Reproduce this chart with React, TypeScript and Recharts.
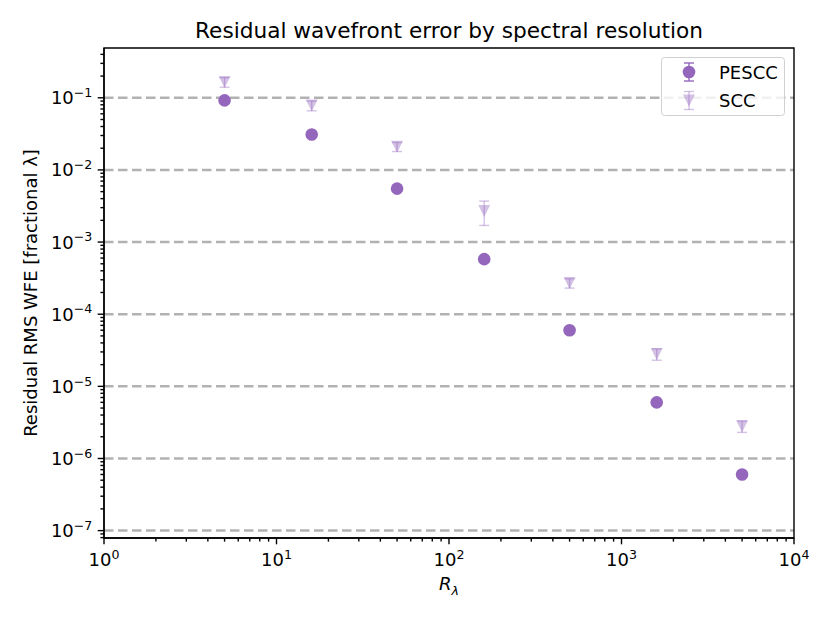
import React from 'react';
import {
  ScatterChart,
  Scatter,
  XAxis,
  YAxis,
  ErrorBar,
  ReferenceLine,
  ReferenceArea,
  Legend,
  Customized,
} from 'recharts';

// ---- data ----
const rValues = [5, 16, 50, 160, 500, 1600, 5000];
const pesccValues = [0.092, 0.031, 0.0055, 0.00058, 0.00006, 0.000006, 0.0000006];
const pesccErrors = [0.006, 0.002, 0.0004, 0.00004, 0.000005, 0.0000005, 0.00000005];
const sccValues = [0.165, 0.078, 0.021, 0.0027, 0.00027, 0.000028, 0.0000028];
const sccErrors = [0.025, 0.012, 0.003, 0.001, 0.00004, 0.000005, 0.0000005];

const xMajorTicks = [1, 10, 100, 1000, 10000];
const yMajorTicks = [1e-7, 1e-6, 1e-5, 1e-4, 1e-3, 1e-2, 1e-1];
const minorMultipliers = [2, 3, 4, 5, 6, 7, 8, 9];
const xDomain = [1, 10000];
const yDomain = [7.9e-8, 0.49];

const seriesNames = ['PESCC', 'SCC'];
const title = 'Residual wavefront error by spectral resolution';
const yLabel = 'Residual RMS WFE [fractional λ]';

// ---- derived tables ----
const pesccData = rValues.map((r, i) => ({ r, v: pesccValues[i], err: pesccErrors[i] }));
const sccData = rValues.map((r, i) => ({ r, v: sccValues[i], err: sccErrors[i] }));

const buildTicks = (majors: number[], domain: number[]) => {
  const all: number[] = [...majors];
  const decades = [Math.floor(Math.log10(domain[0])), Math.ceil(Math.log10(domain[1]))];
  for (let k = decades[0]; k <= decades[1]; k++) {
    minorMultipliers.forEach((m) => {
      const v = m * Math.pow(10, k);
      if (v >= domain[0] && v <= domain[1]) all.push(v);
    });
  }
  return all.sort((a, b) => a - b);
};
const xTicks = buildTicks(xMajorTicks, xDomain);
const yTicks = buildTicks(yMajorTicks, yDomain);

const isMajor = (v: number) => Math.abs(Math.log10(v) - Math.round(Math.log10(v))) < 1e-6;
const expText = (v: number) => {
  const e = Math.round(Math.log10(v));
  return e < 0 ? `\u2212${-e}` : `${e}`;
};

const FONT = 'DejaVu Sans, sans-serif';
const PURPLE = '#9467bd';
const MAJOR_LEN = 6.3;
const MINOR_LEN = 3.6;
const PAD = 6.3;

const XTick = (props: any) => {
  const { x, y, payload } = props;
  const v = payload.value;
  const major = isMajor(v);
  return (
    <g>
      <line x1={x} x2={x} y1={y} y2={y + (major ? MAJOR_LEN : MINOR_LEN)} stroke="#000" strokeWidth={1.4} />
      {major && (
        <text x={x} y={y + MAJOR_LEN + PAD + 15.5} textAnchor="middle" fontFamily={FONT} fontSize={18} fill="#000">
          <tspan>10</tspan>
          <tspan dy={-7.3} fontSize={12.6}>{expText(v)}</tspan>
        </text>
      )}
    </g>
  );
};

const YTick = (props: any) => {
  const { x, y, payload } = props;
  const v = payload.value;
  const major = isMajor(v);
  return (
    <g>
      <line x1={x} x2={x - (major ? MAJOR_LEN : MINOR_LEN)} y1={y} y2={y} stroke="#000" strokeWidth={1.4} />
      {major && (
        <text x={x - MAJOR_LEN - PAD + 1} y={y + 6.5} textAnchor="end" fontFamily={FONT} fontSize={18} fill="#000">
          <tspan>10</tspan>
          <tspan dy={-7.3} fontSize={12.6}>{expText(v)}</tspan>
        </text>
      )}
    </g>
  );
};

const Circle = (props: any) => {
  const { cx, cy } = props;
  if (cx == null || cy == null) return null;
  return <circle cx={cx} cy={cy} r={6.3} fill={PURPLE} />;
};

const TriDown = (props: any) => {
  const { cx, cy } = props;
  if (cx == null || cy == null) return null;
  const s = 6;
  return (
    <polygon
      points={`${cx - s},${cy - s} ${cx + s},${cy - s} ${cx},${cy + s}`}
      fill={PURPLE}
      fillOpacity={0.4}
    />
  );
};

const LegendContent = (props: any) => {
  const payload = props.payload || [];
  const rows = payload.length ? payload.map((p: any) => p.value) : seriesNames;
  return (
    <svg width={124} height={59} style={{ display: 'block' }}>
      <rect x={0.5} y={0.5} width={123} height={58} rx={3} ry={3} fill="#fff" fillOpacity={0.8} stroke="#d0d0d0" strokeWidth={1} />
      {rows.map((name: string, i: number) => {
        const cy = 15 + i * 28.5;
        const cx = 28;
        const light = i === 1;
        return (
          <g key={name}>
            <g stroke={PURPLE} strokeOpacity={light ? 0.4 : 1} strokeWidth={1.4}>
              <line x1={cx} x2={cx} y1={cy - 9} y2={cy + 9} />
              <line x1={cx - 5} x2={cx + 5} y1={cy - 9} y2={cy - 9} />
              <line x1={cx - 5} x2={cx + 5} y1={cy + 9} y2={cy + 9} />
            </g>
            {light ? (
              <polygon points={`${cx - 6},${cy - 6} ${cx + 6},${cy - 6} ${cx},${cy + 6}`} fill={PURPLE} fillOpacity={0.4} />
            ) : (
              <circle cx={cx} cy={cy} r={6.3} fill={PURPLE} />
            )}
            <text x={58} y={cy + 6.5} fontFamily={FONT} fontSize={18} fill="#000">
              {name}
            </text>
          </g>
        );
      })}
    </svg>
  );
};

const Title = () => (
  <text x={449} y={37.5} textAnchor="middle" fontFamily={FONT} fontSize={21.67} fill="#000">
    {title}
  </text>
);

const YLabel = (props: any) => {
  const vb = props.viewBox || { x: 44, y: 48, width: 60, height: 490 };
  const cy = vb.y + vb.height / 2;
  const x = 36.7;
  return (
    <text
      x={x}
      y={cy}
      transform={`rotate(-90, ${x}, ${cy})`}
      textAnchor="middle"
      fontFamily={FONT}
      fontSize={18}
      fill="#000"
    >
      {yLabel}
    </text>
  );
};

const XLabel = (props: any) => {
  const vb = props.viewBox || { x: 104, y: 538, width: 690, height: 50 };
  const cx = vb.x + vb.width / 2;
  return (
    <text x={cx} y={vb.y + 52} textAnchor="middle" fontFamily={FONT} fontSize={18} fontStyle="italic" fill="#000">
      <tspan>R</tspan>
      <tspan dy={4.5} fontSize={12.6}>λ</tspan>
    </text>
  );
};

export default function App() {
  return (
    <div style={{ position: 'absolute', left: 0, top: 0, width: 830, height: 623, background: '#fff' }}>
      <ScatterChart width={830} height={623} margin={{ top: 48, right: 36, bottom: 35, left: 44 }}>
        <XAxis
          dataKey="r"
          type="number"
          scale="log"
          domain={xDomain}
          allowDataOverflow
          ticks={xTicks}
          interval={0}
          tick={<XTick />}
          tickLine={false}
          tickSize={0}
          tickMargin={0}
          height={50}
          axisLine={{ stroke: '#000', strokeWidth: 1.4 }}
          label={<XLabel />}
        />
        <YAxis
          dataKey="v"
          type="number"
          scale="log"
          domain={yDomain}
          allowDataOverflow
          ticks={yTicks}
          interval={0}
          tick={<YTick />}
          tickLine={false}
          tickSize={0}
          tickMargin={0}
          width={60}
          axisLine={{ stroke: '#000', strokeWidth: 1.4 }}
          label={<YLabel />}
        />
        <ReferenceArea
          x1={xDomain[0]}
          x2={xDomain[1]}
          y1={yDomain[0]}
          y2={yDomain[1]}
          fill="none"
          fillOpacity={0}
          stroke="#000"
          strokeWidth={1.4}
          ifOverflow="visible"
        />
        <Scatter name={seriesNames[0]} data={pesccData} dataKey="v" fill={PURPLE} shape={<Circle />} isAnimationActive={false}>
          <ErrorBar dataKey="err" direction="y" width={5} stroke={PURPLE} strokeWidth={1.4} isAnimationActive={false} />
        </Scatter>
        <Scatter name={seriesNames[1]} data={sccData} dataKey="v" fill={PURPLE} shape={<TriDown />} isAnimationActive={false}>
          <ErrorBar dataKey="err" direction="y" width={5} stroke={PURPLE} strokeOpacity={0.4} strokeWidth={1.4} isAnimationActive={false} />
        </Scatter>
        {yMajorTicks.map((v) => (
          <ReferenceLine
            key={v}
            y={v}
            stroke="#000"
            strokeOpacity={0.3}
            strokeWidth={2.5}
            strokeDasharray="9.5 4.5"
          />
        ))}
        <Legend
          layout="horizontal"
          verticalAlign="middle"
          align="center"
          content={<LegendContent />}
          wrapperStyle={{ left: 661, top: 57, width: 124, height: 59 }}
        />
        <Customized component={<Title />} />
      </ScatterChart>
    </div>
  );
}
